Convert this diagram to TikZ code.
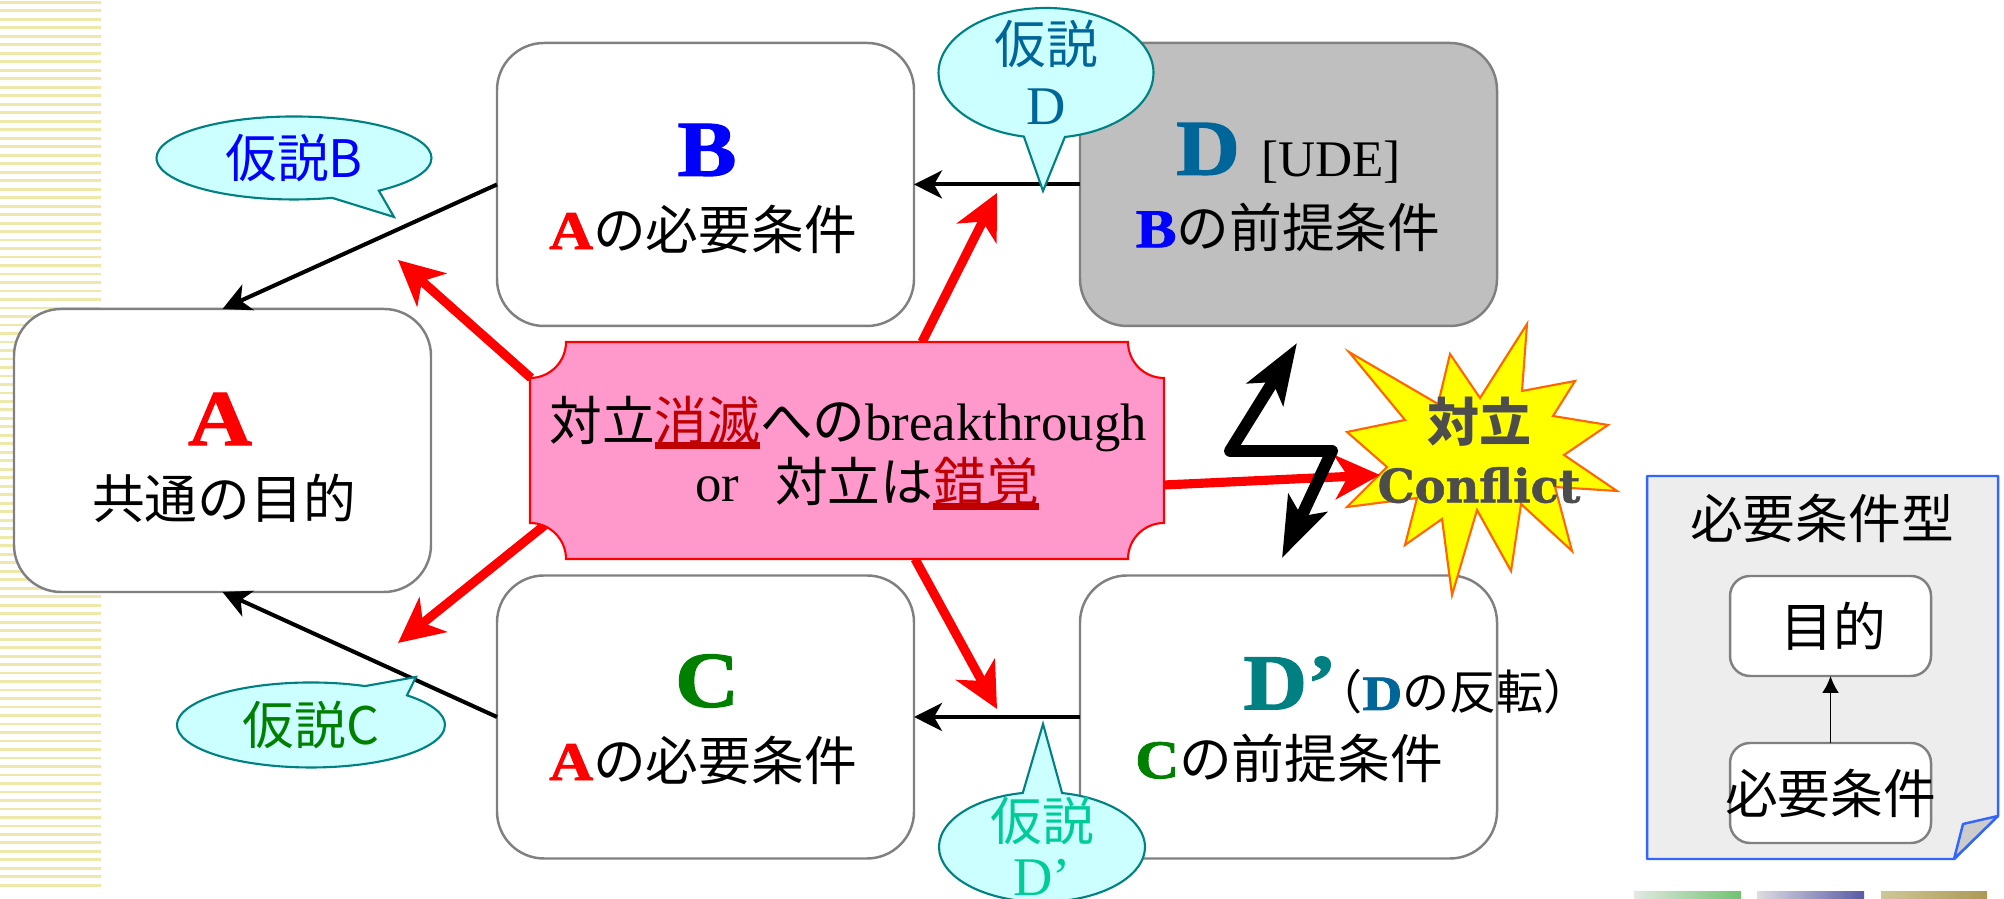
\documentclass[tikz,border=0pt]{standalone}
\usepackage{fontspec}
\setmainfont{Liberation Serif}
\newfontfamily\cjk{Noto Sans CJK JP}
\newfontfamily\slab[UprightFont=* Bold,FakeBold=1.2]{DejaVu Serif}
\newfontfamily\fatface[UprightFont=* Bold,FakeStretch=1.12,FakeBold=1.5]{Liberation Serif}
\usetikzlibrary{arrows.meta}
\usetikzlibrary{shapes.callouts}

\definecolor{stripecol}{HTML}{EEE8AA}
\definecolor{boxline}{HTML}{808080}
\definecolor{ballfill}{HTML}{CCFFFF}
\definecolor{ballline}{HTML}{008080}
\definecolor{plaquefill}{HTML}{FF99CC}
\definecolor{deepred}{HTML}{C00000}
\definecolor{colD}{HTML}{006699}
\definecolor{colDp}{HTML}{008080}
\definecolor{colDpball}{HTML}{00CC99}
\definecolor{colC}{HTML}{008000}
\definecolor{starfill}{HTML}{FFFF00}
\definecolor{starline}{HTML}{FF6600}
\definecolor{inkgray}{HTML}{4D4D4D}
\definecolor{panelline}{HTML}{3366FF}

\newcommand{\bodysize}{\fontsize{15}{17.3}\selectfont}
\newcommand{\headltr}[2]{\textcolor{#1}{\fontsize{22.5}{24}\selectfont\fatface #2}}
\newcommand{\textltr}[2]{\textcolor{#1}{\fontsize{15.5}{17.3}\selectfont\fatface #2}}
\newcommand{\hotword}[1]{\setbox0\hbox{\cjk #1}\textcolor{deepred}{\rlap{\rule[-.09cm]{\wd0}{.07cm}}\box0}}
\newcommand{\twolines}[3]{\smash{\raisebox{-.21cm}{\begin{tabular}[c]{@{}c@{}}{\cjk #1}\\[#3]{\fontsize{15.5}{17}\selectfont #2}\end{tabular}}}}

\tikzset{
	bigbox/.style={draw=boxline,line width=.7pt,fill=white,rounded corners=.47cm,minimum width=4.17cm,minimum height=2.83cm,outer sep=0pt},
	smallbox/.style={draw=boxline,line width=.7pt,fill=white,rounded corners=.2cm,minimum width=2.01cm,minimum height=1cm,inner sep=0pt,outer sep=0pt},
	blackarr/.style={-{Stealth[length=.28cm,width=.28cm,inset=.08cm]},line width=1.15pt},
	redarr/.style={-{Stealth[length=.45cm,width=.44cm,inset=.13cm]},line width=2.6pt,red},
	ball/.style={ellipse callout,draw=ballline,line width=.6pt,fill=ballfill,callout pointer arc=22,inner sep=0pt,font=\fontsize{14.7}{17}\selectfont},
	body/.style={font=\bodysize,inner sep=0pt},
}

\begin{document}
\begin{tikzpicture}
	\useasboundingbox (0,0) rectangle (20.04,8.99);
	
	%stripes on the left edge
	\foreach \i in {0,...,104}{
		\fill[stripecol] (0,{8.98-\i*.0849}) rectangle ++(1.01,-.028);
	}
	
	%thumbnails
	\shade[left color=green!10!gray!20,right color=green!40!gray!80] (16.34,0) rectangle (17.41,.07);
	\shade[left color=blue!10!gray!25,right color=blue!30!gray] (17.57,0) rectangle (18.64,.07);
	\shade[left color=brown!40!yellow!45!gray!60,right color=brown!60!yellow!50!gray] (18.81,0) rectangle (19.87,.07);
	
	%boxes
	\node[bigbox] (A) at (2.225,4.485) {};
	\node[bigbox] (B) at (7.055,7.145) {};
	\node[bigbox,fill=black!25] (D) at (12.885,7.145) {};
	\node[bigbox] (C) at (7.055,1.82) {};
	\node[bigbox] (Dp) at (12.885,1.82) {};
	
	%black arrows
	\draw[blackarr] (B.west)--(A.north);
	\draw[blackarr] (C.west)--(A.south);
	\draw[blackarr] (D.west)--(B.east);
	\draw[blackarr] (Dp.west)--(C.east);
	
	%free ends
	\coordinate (plaqueNW) at (5.31,5.21);
	\coordinate (plaqueNE) at (9.22,5.57);
	\coordinate (plaqueSW) at (5.45,3.74);
	\coordinate (plaqueSE) at (9.15,3.40);
	\coordinate (plaqueE) at (11.64,4.14);
	\coordinate (tipNW) at (3.98,6.39);
	\coordinate (tipNE) at (9.97,7.06);
	\coordinate (tipSW) at (3.98,2.56);
	\coordinate (tipSE) at (9.97,1.90);
	\coordinate (tipE) at (13.80,4.24);
	\coordinate (boltTop) at (12.97,5.56);
	\coordinate (boltA) at (12.30,4.48);
	\coordinate (boltB) at (13.32,4.48);
	\coordinate (boltBot) at (12.82,3.41);
	\coordinate (ptrB) at (3.94,6.82);
	\coordinate (ptrC) at (4.16,2.22);
	\coordinate (ptrD) at (10.43,7.08);
	\coordinate (ptrDp) at (10.43,1.75);
	
	%conflict star
	\draw[fill=starfill,draw=starline,line width=.6pt] (13.49,5.47)--(14.38,4.95)--(14.50,5.45)--(14.80,5.01)--(15.27,5.75)--(15.22,5.08)--(15.75,5.18)--(15.53,4.83)--(16.08,4.74)--(15.64,4.44)--(16.17,4.08)--(15.55,4.12)--(15.72,3.48)--(15.21,3.95)--(15.11,3.28)--(14.77,3.89)--(14.52,3.04)--(14.42,3.80)--(14.05,3.54)--(14.17,4.01)--(13.47,3.92)--(13.87,4.32)--(13.47,4.67)--(14.05,4.79)--cycle;
	
	%red arrows
	\draw[redarr] (plaqueNW)--(tipNW);
	\draw[redarr] (plaqueNE)--(tipNE);
	\draw[redarr] (plaqueSW)--(tipSW);
	\draw[redarr] (plaqueSE)--(tipSE);
	\draw[redarr] (plaqueE)--(tipE);
	
	%plaque
	\draw[fill=plaquefill,draw=red,line width=.6pt] (5.66,5.57)--(11.28,5.57) arc (180:270:.36)--(11.64,3.76) arc (90:180:.36)--(5.66,3.40) arc (0:90:.36)--(5.30,5.21) arc (270:360:.36)--cycle;
	\node[body,align=center] (plaque) at (8.48,4.46) {{\cjk 対立}\hotword{消滅}{\cjk への}breakthrough\\\hspace*{.38cm}or\hspace{.36cm}{\cjk 対立は}\hotword{錯覚}};
	
	%bolt
	\draw[{Stealth[length=.6cm,width=.42cm,inset=.14cm]}-{Stealth[length=.6cm,width=.42cm,inset=.14cm]},line width=3.4pt,line join=round] (boltTop)--(boltA)--(boltB)--(boltBot);
	
	%conflict text
	\node[align=center,inner sep=0pt,text=inkgray,font=\fontsize{14.8}{17.4}\selectfont] (conflict) at (14.79,4.49) {{\cjk\bfseries 対立}\\{\slab\fontsize{13.2}{17.4}\selectfont Conflict}};
	
	%balloons
	\node[ball,minimum width=2.75cm,minimum height=.83cm,callout absolute pointer=(ptrB),text=blue] (ballB) at (2.94,7.41) {\cjk 仮説B};
	\node[ball,minimum width=2.68cm,minimum height=.85cm,callout absolute pointer=(ptrC),text=colC] (ballC) at (3.11,1.74) {\cjk 仮説C};
	\node[ball,minimum width=2.15cm,minimum height=1.30cm,callout absolute pointer=(ptrD),text=colD] (ballD) at (10.46,8.26) {\twolines{仮説}{D}{.02cm}};
	\node[ball,minimum width=2.06cm,minimum height=1.10cm,callout absolute pointer=(ptrDp),text=colDpball] (ballDp) at (10.42,.52) {\twolines{仮説}{D’}{-.05cm}};
	
	%box texts
	\node[inner sep=0pt] (Ahead) at (2.20,4.80) {\headltr{red}{A}};
	\node[body] (Atext) at (2.24,4.01) {\cjk 共通の目的};
	\node[inner sep=0pt] (Bhead) at (7.07,7.49) {\headltr{blue}{B}};
	\node[body] (Btext) at (7.03,6.70) {\textltr{red}{A}{\cjk の必要条件}};
	\node[inner sep=0pt] (Dhead) at (12.08,7.50) {\headltr{colD}{D}};
	\node[inner sep=0pt,font=\fontsize{14.6}{17}\selectfont] (Dtag) at (13.31,7.37) {[UDE]};
	\node[body] (Dtext) at (12.88,6.72) {\textltr{blue}{B}{\cjk の前提条件}};
	\node[inner sep=0pt] (Chead) at (7.07,2.18) {\headltr{colC}{C}};
	\node[body] (Ctext) at (7.03,1.39) {\textltr{red}{A}{\cjk の必要条件}};
	\node[inner sep=0pt] (Dphead) at (12.90,2.16) {\headltr{colDp}{D’}};
	\node[inner sep=0pt,font=\fontsize{13.4}{15}\selectfont] (Dptag) at (14.53,2.07) {{\cjk （}\textcolor{colD}{\fontsize{14}{15}\selectfont\fatface D}{\cjk の反転）}};
	\node[body] (Dptext) at (12.89,1.41) {\textltr{colC}{C}{\cjk の前提条件}};
	
	%side panel
	\draw[fill=black!7,draw=panelline,line width=.7pt,line join=round] (16.47,4.23)--(19.98,4.23)--(19.98,.83)--(19.54,.40)--(16.47,.40)--cycle;
	\draw[fill=black!20,draw=panelline,line width=.7pt,line join=round] (19.98,.83)--(19.63,.75)--(19.54,.40)--cycle;
	\node[body] (panel) at (18.22,3.81) {\cjk 必要条件型};
	\node[smallbox,font=\bodysize] (goal) at (18.305,2.73) {\hspace*{.06cm}\cjk 目的};
	\node[smallbox,font=\bodysize] (need) at (18.305,1.06) {\makebox[0pt]{\cjk 必要条件}};
	\draw[-{Latex[length=.17cm,width=.17cm]},line width=.55pt] (need)--(goal);
\end{tikzpicture}
\end{document}
